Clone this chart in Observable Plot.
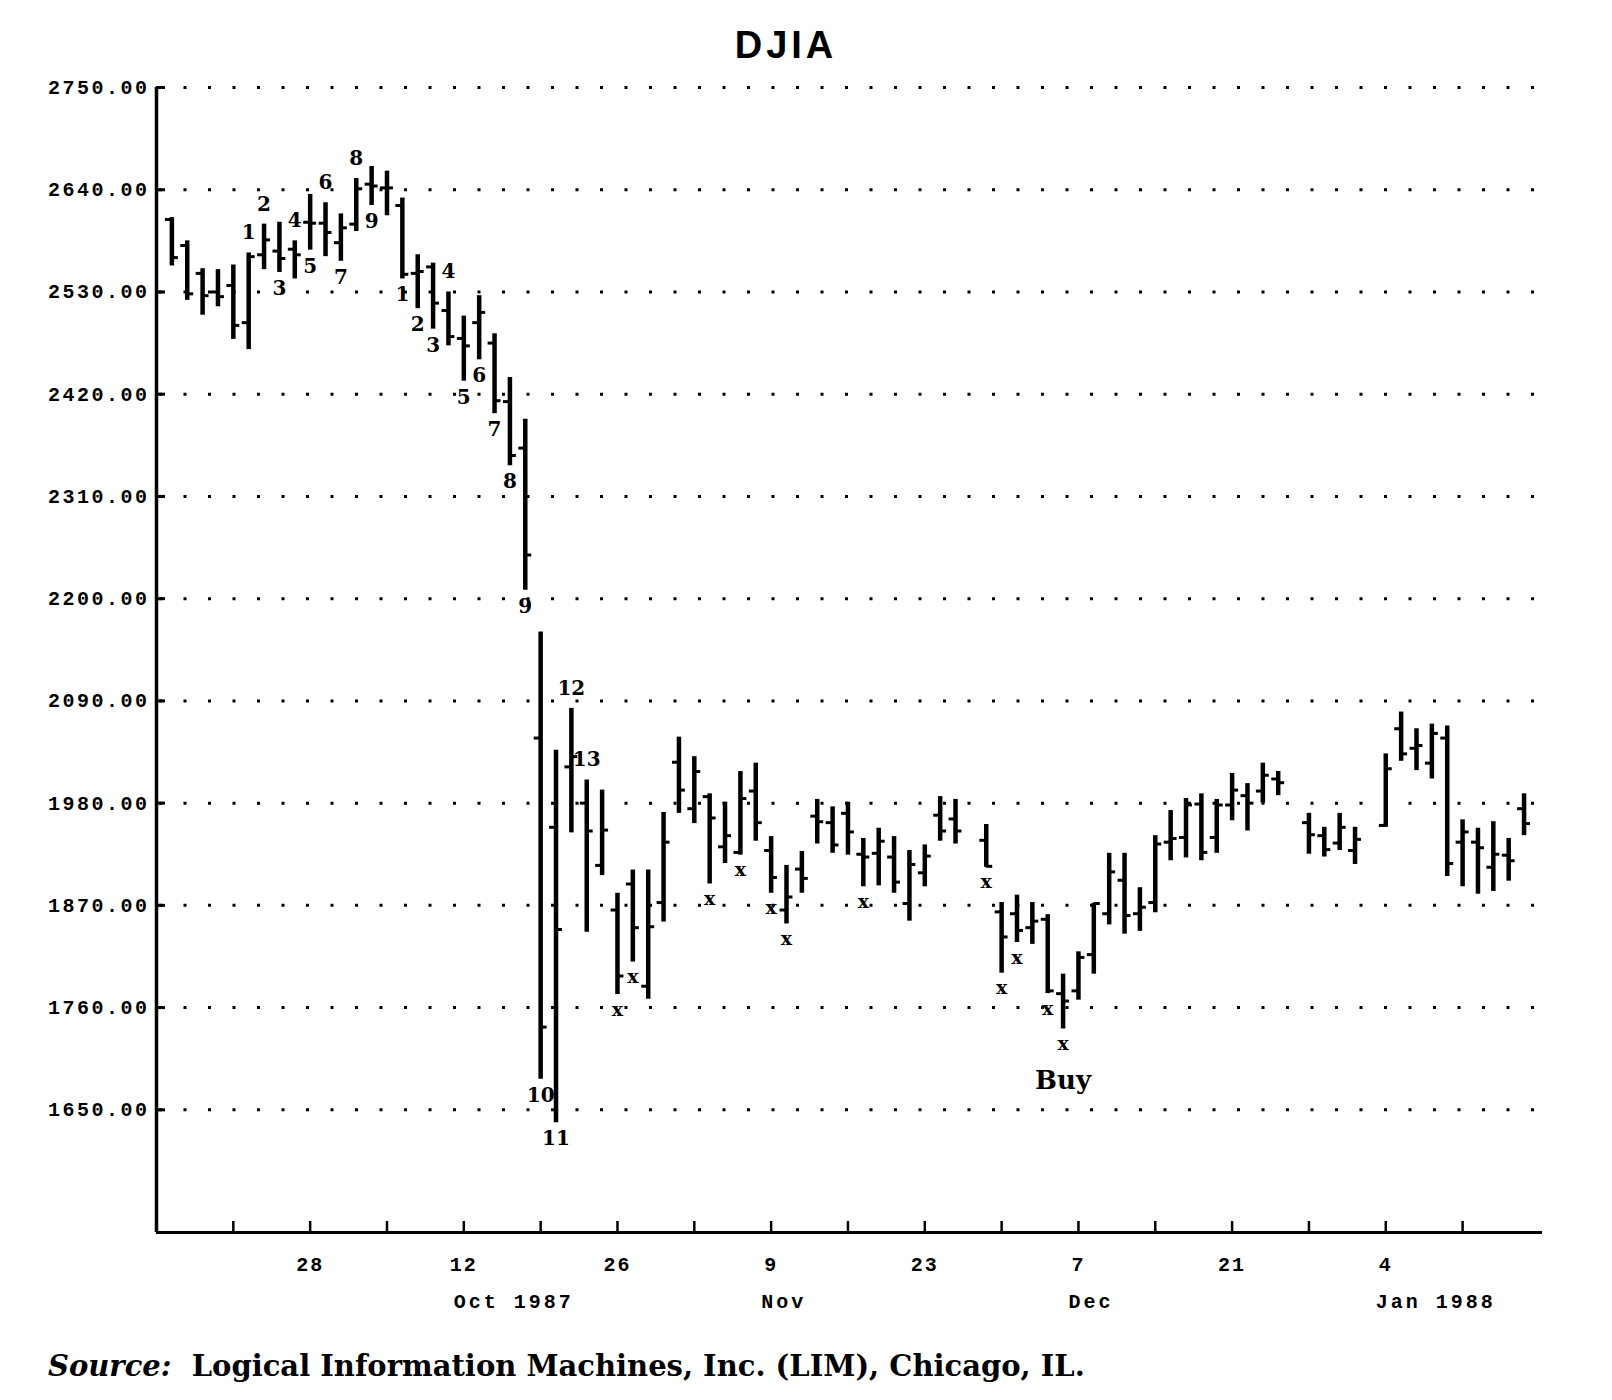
<!DOCTYPE html>
<html>
<head>
<meta charset="utf-8">
<script src="https://cdn.jsdelivr.net/npm/d3@7"></script>
<script src="https://cdn.jsdelivr.net/npm/@observablehq/plot@0.6"></script>
<style>
  html, body { margin: 0; padding: 0; background: #fff; }
  #wrap { position: relative; width: 1612px; height: 1400px; background: #fff; }
  #title { position: absolute; left: 0; top: 26px; width: 1572px; text-align: center;
           font-family: "Liberation Sans", Arial, sans-serif; font-weight: bold; font-size: 38px;
           line-height: 1; letter-spacing: 4px; color: #000; }
  #caption { position: absolute; left: 48px; top: 1352px; font-family: "DejaVu Serif", serif;
             font-weight: bold; font-size: 29px; line-height: 1; color: #000; white-space: nowrap; }
  #caption i { font-style: italic; }
  #chart { position: absolute; left: 0; top: 0; }
  g[aria-label="y-axis tick label"] text { letter-spacing: 2.5px; }
  g[aria-label="x-axis tick label"] text { letter-spacing: 2px; }
  text.month-label { letter-spacing: 3px; }
</style>
</head>
<body>
<div id="wrap">
  <div id="chart"></div>
  <div id="title">DJIA</div>
  <div id="caption"><i>Source:</i>&nbsp; Logical Information Machines, Inc. (LIM), Chicago, IL.</div>
</div>
<script>
// ---- data ----
const tradeDates = [
  "1987-09-15","1987-09-16","1987-09-17","1987-09-18",
  "1987-09-21","1987-09-22","1987-09-23","1987-09-24","1987-09-25",
  "1987-09-28","1987-09-29","1987-09-30","1987-10-01","1987-10-02",
  "1987-10-05","1987-10-06","1987-10-07","1987-10-08","1987-10-09",
  "1987-10-12","1987-10-13","1987-10-14","1987-10-15","1987-10-16",
  "1987-10-19","1987-10-20","1987-10-21","1987-10-22","1987-10-23",
  "1987-10-26","1987-10-27","1987-10-28","1987-10-29","1987-10-30",
  "1987-11-02","1987-11-03","1987-11-04","1987-11-05","1987-11-06",
  "1987-11-09","1987-11-10","1987-11-11","1987-11-12","1987-11-13",
  "1987-11-16","1987-11-17","1987-11-18","1987-11-19","1987-11-20",
  "1987-11-23","1987-11-24","1987-11-25","1987-11-27",
  "1987-11-30","1987-12-01","1987-12-02","1987-12-03","1987-12-04",
  "1987-12-07","1987-12-08","1987-12-09","1987-12-10","1987-12-11",
  "1987-12-14","1987-12-15","1987-12-16","1987-12-17","1987-12-18",
  "1987-12-21","1987-12-22","1987-12-23","1987-12-24",
  "1987-12-28","1987-12-29","1987-12-30","1987-12-31",
  "1988-01-04","1988-01-05","1988-01-06","1988-01-07","1988-01-08",
  "1988-01-11","1988-01-12","1988-01-13","1988-01-14","1988-01-15"
];
const openValues = [
  2608,2580,2550,2530,
  2537,2497,2570,2574,2576,
  2605,2604,2583,2603,2646,
  2642,2623,2550,2557,2510,
  2480,2497,2475,2412,2362,
  2050,1954,2019,1980,1913,
  1865,1893,1783,1873,2024,
  1974,1987,1933,1927,1993,
  1929,1865,1909,1966,1959,
  1969,1925,1926,1922,1872,
  1905,1967,1963,1940,
  1863,1861,1846,1855,1775,
  1778,1817,1861,1897,1861,
  1873,1938,1943,1979,1943,
  1978,1988,1993,2006,
  1959,1945,1937,1929,
  1956,2060,2039,2023,2050,
  1938,1938,1911,1924,1974
];
const highValues = [
  2610,2585,2555,2554,
  2559,2572,2603,2605,2585,
  2635,2626,2614,2652,2665,
  2660,2631,2570,2561,2530,
  2504,2526,2485,2438,2393,
  2164,2037,2082,2005,1994,
  1883,1908,1908,1970,2051,
  2030,1990,1981,2014,2023,
  1944,1913,1928,1984,1976,
  1981,1942,1953,1944,1929,
  1935,1987,1984,1957,
  1873,1881,1873,1860,1796,
  1820,1872,1926,1926,1889,
  1945,1972,1985,1990,1984,
  2012,2001,2023,2014,
  1969,1954,1969,1954,
  2033,2078,2060,2065,2063,
  1962,1953,1960,1942,1990
];
const lowValues = [
  2558,2521,2505,2514,
  2479,2468,2554,2551,2544,
  2575,2568,2563,2595,2623,
  2612,2544,2512,2490,2472,
  2434,2457,2399,2343,2209,
  1683,1636,1948,1841,1902,
  1774,1809,1769,1852,1969,
  1958,1893,1915,1924,1939,
  1883,1850,1883,1936,1926,
  1924,1890,1891,1883,1853,
  1890,1939,1936,1911,
  1797,1830,1828,1775,1737,
  1768,1796,1849,1839,1842,
  1862,1918,1921,1918,1926,
  1961,1950,1980,1988,
  1925,1922,1929,1914,
  1954,2025,2015,2006,1901,
  1890,1882,1885,1896,1945
];
const closeValues = [
  2567,2528,2526,2525,
  2494,2568,2586,2566,2570,
  2604,2594,2599,2641,2644,
  2642,2549,2552,2518,2482,
  2472,2508,2413,2354,2247,
  1739,1844,2030,1950,1951,
  1794,1846,1847,1938,1994,
  2014,1964,1945,1985,1959,
  1900,1879,1899,1960,1935,
  1949,1922,1939,1895,1914,
  1923,1950,1950,1912,
  1836,1843,1853,1778,1767,
  1814,1872,1906,1859,1868,
  1936,1942,1978,1927,1978,
  1994,1980,2010,2002,
  1946,1930,1954,1941,
  2017,2033,2042,2055,1915,
  1949,1932,1925,1918,1958
];

// count labels (text, date, placed above the high or below the low)
const countDates = [
  "1987-09-22","1987-09-23","1987-09-24","1987-09-25","1987-09-28","1987-09-29","1987-09-30","1987-10-01","1987-10-02",
  "1987-10-06","1987-10-07","1987-10-08","1987-10-09","1987-10-12","1987-10-13","1987-10-14","1987-10-15","1987-10-16",
  "1987-10-19","1987-10-20","1987-10-21","1987-10-22"
];
const countTexts = ["1","2","3","4","5","6","7","8","9","1","2","3","4","5","6","7","8","9","10","11","12","13"];
const countSides = ["above","above","below","above","below","above","below","above","below",
                    "below","below","below","above","below","below","below","below","below",
                    "below","below","above","above"];
const xMarkDates = ["1987-10-26","1987-10-27","1987-11-03","1987-11-05","1987-11-09","1987-11-10",
                    "1987-11-17","1987-11-27","1987-11-30","1987-12-01","1987-12-03","1987-12-04"];
const buyDates = ["1987-12-04"];

// axis ticks
const startDate = "1987-09-14";
const weekTickDates = ["1987-09-21","1987-09-28","1987-10-05","1987-10-12","1987-10-19","1987-10-26",
  "1987-11-02","1987-11-09","1987-11-16","1987-11-23","1987-11-30","1987-12-07","1987-12-14",
  "1987-12-21","1987-12-28","1988-01-04","1988-01-11"];
const dayTickDates = ["1987-09-28","1987-10-12","1987-10-26","1987-11-09","1987-11-23","1987-12-07","1987-12-21","1988-01-04"];
const dayTickLabels = ["28","12","26","9","23","7","21","4"];
const monthDates = ["1987-10-12","1987-11-09","1987-12-07","1988-01-04"];
const monthLabels = ["Oct 1987","Nov","Dec","Jan 1988"];
const yTicks = [1650,1760,1870,1980,2090,2200,2310,2420,2530,2640,2750];
const yDomain = [1518, 2750];
const xDomain = [0, 90.2];

// ---- trading-day index (weekdays since start; holidays keep their slot) ----
const dayMs = 86400000;
function wd(s) {
  const a = Date.parse(startDate + "T00:00:00Z"), b = Date.parse(s + "T00:00:00Z");
  let n = 0;
  for (let t = a; t < b; t += dayMs) { const w = new Date(t).getUTCDay(); if (w !== 0 && w !== 6) n++; }
  return n;
}
const bars = tradeDates.map((d, k) => ({i: wd(d), o: openValues[k], h: highValues[k], l: lowValues[k], c: closeValues[k]}));
const barByDate = new Map(tradeDates.map((d, k) => [d, bars[k]]));
const counts = countDates.map((d, k) => ({bar: barByDate.get(d), text: countTexts[k], side: countSides[k]}));
const above = counts.filter(d => d.side === "above");
const below = counts.filter(d => d.side === "below");
const xMarks = xMarkDates.map(d => barByDate.get(d));
const buys = buyDates.map(d => barByDate.get(d));
const dayTicks = dayTickDates.map(wd);
const dayLabelMap = new Map(dayTicks.map((v, k) => [v, dayTickLabels[k]]));
const months = monthDates.map((d, k) => ({i: wd(d), label: monthLabels[k]}));

const mono = "'Liberation Mono', 'DejaVu Sans Mono', monospace";
const serif = "'DejaVu Serif', serif";

const chart = Plot.plot({
  width: 1612,
  height: 1330,
  marginLeft: 156,
  marginRight: 70,
  marginTop: 87,
  marginBottom: 98,
  style: {background: "white", color: "black", overflow: "visible"},
  x: {domain: xDomain, axis: null},
  y: {domain: yDomain, axis: null},
  marks: [
    // dotted gridlines
    Plot.ruleY(yTicks, {stroke: "#000", strokeWidth: 3, strokeDasharray: "3 21.5", strokeDashoffset: -3}),
    // y axis labels and inward ticks
    Plot.axisY(yTicks, {tickSize: 0, tickPadding: 7, tickFormat: d => d.toFixed(2), label: null,
      fontFamily: mono, fontWeight: "bold", fontSize: 20}),
    Plot.axisY(yTicks, {tickSize: 9, dx: 9, strokeWidth: 3, tickFormat: () => "", label: null}),
    // x axis ticks (inward) and labels
    Plot.axisX(weekTickDates.map(wd), {tickSize: 11, dy: -11, strokeWidth: 2.5, tickFormat: () => "", label: null}),
    Plot.axisX(dayTicks, {tickSize: 0, tickPadding: 24, tickFormat: d => dayLabelMap.get(d), label: null,
      fontFamily: mono, fontWeight: "bold", fontSize: 20}),
    Plot.text(months, {x: "i", text: "label", frameAnchor: "bottom", dy: 75, dx: -10, textAnchor: "start",
      fontFamily: mono, fontWeight: "bold", fontSize: 20, fill: "#000"}),
    // axis lines
    Plot.ruleX([xDomain[0]], {strokeWidth: 3.5, stroke: "#000"}),
    Plot.ruleY([yDomain[0]], {strokeWidth: 3, stroke: "#000"}),
    // OHLC bars
    Plot.ruleX(bars, {x: "i", y1: "l", y2: "h", stroke: "#000", strokeWidth: 4.5}),
    Plot.ruleY(bars, {y: "o", x1: d => d.i - 0.42, x2: "i", stroke: "#000", strokeWidth: 3}),
    Plot.ruleY(bars, {y: "c", x1: "i", x2: d => d.i + 0.42, stroke: "#000", strokeWidth: 3}),
    // count labels
    Plot.text(above, {x: d => d.bar.i, y: d => d.bar.h, text: "text", dy: -20,
      fontFamily: serif, fontWeight: "bold", fontSize: 20, fill: "#000"}),
    Plot.text(below, {x: d => d.bar.i, y: d => d.bar.l, text: "text", dy: 16,
      fontFamily: serif, fontWeight: "bold", fontSize: 20, fill: "#000"}),
    Plot.text(xMarks, {x: "i", y: "l", text: () => "x", dy: 15,
      fontFamily: serif, fontWeight: "bold", fontSize: 19, fill: "#000"}),
    Plot.text(buys, {x: "i", y: "l", text: () => "Buy", dy: 52,
      fontFamily: serif, fontWeight: "bold", fontSize: 26, fill: "#000"})
  ]
});
// widen the month labels' letter spacing like the original
d3.select(chart).selectAll("text")
  .filter(function () { return monthLabels.includes(this.textContent); })
  .classed("month-label", true);
document.getElementById("chart").appendChild(chart);
</script>
</body>
</html>
